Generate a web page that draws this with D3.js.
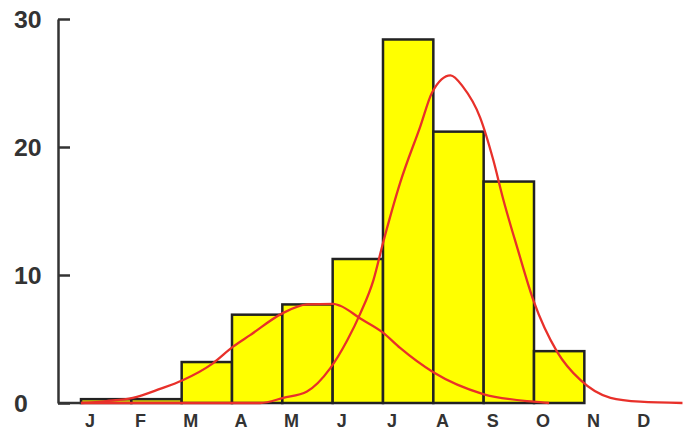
<!DOCTYPE html>
<html>
<head>
<meta charset="utf-8">
<script src="https://cdn.jsdelivr.net/npm/d3@7"></script>
<style>
  html, body { margin: 0; padding: 0; background: #fff; }
  svg { display: block; }
  text { font-family: "Liberation Sans", Arial, sans-serif; font-weight: bold; fill: #333; }
</style>
</head>
<body>
<svg id="chart" width="687" height="441"></svg>
<script>
// Monthly counts
const months = ["J", "F", "M", "A", "M", "J", "J", "A", "S", "O", "N", "D"];
const counts = [0.3, 0.3, 3.2, 6.9, 7.7, 11.25, 28.4, 21.2, 17.3, 4.05, 0, 0];
const yTicks = [0, 10, 20, 30];

// Fitted density curves: [month position, value]
const earlyFit = [
  [0, 0], [0.5, 0.15], [1.03, 0.4], [1.57, 1.1], [2.03, 1.8], [2.62, 3.1],
  [3.02, 4.4], [3.36, 5.3], [4.0, 7.0], [4.49, 7.7], [5.01, 7.75], [5.15, 7.6],
  [5.55, 6.6], [6.0, 5.5], [6.34, 4.3], [7.0, 2.4], [7.99, 0.7], [8.99, 0.1], [9.3, 0]
];
const lateFit = [
  [0, 0], [3.56, 0], [4.02, 0.4], [4.49, 0.9], [4.95, 2.7], [5.29, 4.9],
  [5.55, 7.0], [5.81, 9.6], [6.0, 12.5], [6.34, 17.2], [6.74, 21.6], [6.98, 24.3],
  [7.34, 25.6], [7.59, 24.7], [7.93, 22.3], [8.19, 19.0], [8.39, 15.9], [8.67, 12.1],
  [8.99, 8.0], [9.46, 4.0], [9.92, 1.8], [10.52, 0.4], [11.11, 0.1], [11.95, 0]
];

const svg = d3.select("#chart");
const axisX = 58;
const labelStretch = 1.08;

const x = d3.scaleLinear().domain([0, 12]).range([81, 685]);
const y = d3.scaleLinear().domain([0, 30]).range([403, 19]);

// Bars
svg.append("g")
  .selectAll("rect")
  .data(counts.map((v, i) => ({ v, i })).filter(d => d.v > 0))
  .join("rect")
  .attr("x", d => x(d.i))
  .attr("y", d => y(d.v))
  .attr("width", d => x(d.i + 1) - x(d.i))
  .attr("height", d => y(0) - y(d.v))
  .attr("fill", "#ffff00")
  .attr("stroke", "#222")
  .attr("stroke-width", 2.5);

// Curves
const line = d3.line()
  .x(d => x(d[0]))
  .y(d => y(d[1]))
  .curve(d3.curveMonotoneX);

[earlyFit, lateFit].forEach(pts => {
  svg.append("path")
    .attr("d", line(pts))
    .attr("fill", "none")
    .attr("stroke", "#e8302a")
    .attr("stroke-width", 2.3)
    .attr("stroke-linejoin", "round");
});

// Y axis with inward ticks
const yAxis = svg.append("g")
  .attr("transform", `translate(${axisX},0)`)
  .call(d3.axisLeft(y).tickValues(yTicks).tickSizeInner(-12).tickSizeOuter(0).tickFormat(d3.format("d")));
yAxis.select(".domain").attr("stroke", "#333").attr("stroke-width", 2.5);
yAxis.selectAll(".tick line").attr("stroke", "#333").attr("stroke-width", 2.5);
yAxis.selectAll(".tick text")
  .attr("x", -44 / labelStretch)
  .attr("text-anchor", "start")
  .attr("dy", "0.36em")
  .attr("transform", `scale(${labelStretch},1)`)
  .style("font-size", "23px")
  .style("fill", "#333");

// Baseline stub from the axis to the first bar
svg.append("line")
  .attr("x1", axisX).attr("x2", x(0))
  .attr("y1", y(0)).attr("y2", y(0))
  .attr("stroke", "#333").attr("stroke-width", 2.5);

// Month labels
svg.append("g")
  .selectAll("text")
  .data(months)
  .join("text")
  .attr("x", (d, i) => x(i + 0.18))
  .attr("y", 421)
  .attr("dy", "0.36em")
  .attr("text-anchor", "middle")
  .style("font-size", "18px")
  .text(d => d);
</script>
</body>
</html>
